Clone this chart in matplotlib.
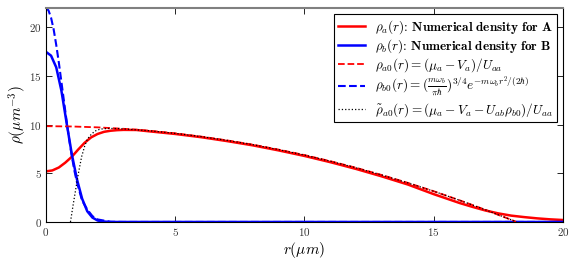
import matplotlib
matplotlib.use("Agg")
import matplotlib.pyplot as plt

plt.rcParams["font.family"] = "serif"
plt.rcParams["font.serif"] = ["cmr10", "DejaVu Serif"]
plt.rcParams["mathtext.fontset"] = "cm"
plt.rcParams["axes.unicode_minus"] = False
plt.rcParams["axes.formatter.use_mathtext"] = True

# numerical density of A
r_num_a = [0, 0.25, 0.5, 0.75, 1.0, 1.25, 1.5, 1.75, 2.0, 2.25, 2.5, 2.75, 3.0,
           3.5, 4, 5, 6, 7, 8, 9, 10, 11, 12, 13, 14, 15, 16, 16.5, 17, 17.5,
           18, 18.5, 19, 19.5, 20]
rho_num_a = [5.2, 5.3, 5.6, 6.1, 6.7, 7.45, 8.15, 8.7, 9.05, 9.27, 9.38, 9.44, 9.47,
             9.46, 9.32, 9.05, 8.72, 8.32, 7.88, 7.36, 6.79, 6.15, 5.45, 4.68, 3.85,
             2.86, 1.95, 1.55, 1.18, 0.88, 0.65, 0.5, 0.37, 0.27, 0.2]

# numerical density of B
r_num_b = [0, 0.2, 0.4, 0.6, 0.8, 1.0, 1.2, 1.4, 1.6, 1.8, 2.0, 2.2, 2.5, 3.0, 20]
rho_num_b = [17.5, 17.1, 15.9, 13.5, 10.2, 7.0, 4.4, 2.4, 1.1, 0.45, 0.15, 0.05,
             0.0, 0.0, 0.0]

# Thomas-Fermi profile for A
r_tf_a = [0, 1, 2, 3, 4, 5, 6, 7, 8, 9, 10, 11, 12, 13, 14, 15, 16, 17, 17.5,
          18, 18.2]
rho_tf_a = [9.85, 9.82, 9.73, 9.58, 9.38, 9.11, 8.78, 8.39, 7.95, 7.44, 6.88,
            6.25, 5.57, 4.82, 4.02, 3.16, 2.23, 1.25, 0.73, 0.22, 0.0]

# Gaussian profile for B
r_gs_b = [0, 0.1, 0.2, 0.3, 0.4, 0.5, 0.6, 0.7, 0.8, 0.9, 1.0, 1.1, 1.2, 1.4,
          1.6, 1.8, 2.0, 2.5, 3.0, 20]
rho_gs_b = [22.0, 21.76, 21.0, 19.8, 18.2, 16.4, 14.4, 12.4, 10.4, 8.5, 6.8,
            5.3, 4.1, 2.2, 1.28, 0.6, 0.26, 0.02, 0.0, 0.0]

# corrected Thomas-Fermi profile for A
r_tilde = [0.95, 1.05, 1.15, 1.25, 1.38, 1.5, 1.6, 1.75, 1.9, 2.1, 2.4, 2.8, 3.2,
           4, 5, 6, 7, 8, 9, 10, 11, 12, 13, 14, 15, 16, 17, 17.5, 18, 18.2]
rho_tilde = [0.0, 1.7, 3.3, 4.9, 6.7, 7.8, 8.5, 9.0, 9.35, 9.55, 9.62, 9.6, 9.53,
             9.38, 9.11, 8.78, 8.39, 7.95, 7.44, 6.88, 6.25, 5.57, 4.82, 4.02,
             3.16, 2.23, 1.25, 0.73, 0.22, 0.0]

labels = [
    r"$\rho_a(r)$: $\mathbf{Numerical\ density\ for\ A}$",
    r"$\rho_b(r)$: $\mathbf{Numerical\ density\ for\ B}$",
    r"$\rho_{a0}(r)=(\mu_a-V_a)/U_{aa}$",
    r"$\rho_{b0}(r)=(\frac{m\omega_b}{\pi\hbar})^{3/4}e^{-m\omega_b r^2/(2\hbar)}$",
    r"$\tilde{\rho}_{a0}(r)=(\mu_a-V_a-U_{ab}\rho_{b0})/U_{aa}$",
]

fig = plt.figure(figsize=(5.81, 2.59), dpi=100)
ax = fig.add_axes([0.079, 0.143, 0.89, 0.826])

ax.plot(r_num_a, rho_num_a, color="red", lw=1.8, label=labels[0])
ax.plot(r_num_b, rho_num_b, color="blue", lw=1.8, label=labels[1])
ax.plot(r_tf_a, rho_tf_a, color="red", lw=1.3, ls="--", label=labels[2])
ax.plot(r_gs_b, rho_gs_b, color="blue", lw=1.5, ls="--", label=labels[3])
ax.plot(r_tilde, rho_tilde, color="black", lw=0.9, ls=":", label=labels[4])

ax.set_xlim(0, 20)
ax.set_ylim(0, 22)
ax.set_xticks([0, 5, 10, 15, 20])
ax.set_yticks([0, 5, 10, 15, 20])
ax.tick_params(direction="in", top=True, right=True, labelsize=8, length=4,
               width=0.6, pad=3, labelcolor="#333333")
ax.spines["top"].set_color("#808080")
ax.spines["top"].set_linewidth(1.5)

ax.set_xlabel(r"$r(\mu m)$", fontsize=11, labelpad=1)
ax.set_ylabel(r"$\rho(\mu m^{-3})$", fontsize=11, labelpad=0)

leg = ax.legend(loc="upper right", fontsize=9.5, fancybox=False, framealpha=1,
                edgecolor="black", borderaxespad=0.45, labelspacing=0.1,
                handlelength=2.0, borderpad=0.3)
leg.get_frame().set_linewidth(0.8)

fig.savefig("out.png", dpi=100)
